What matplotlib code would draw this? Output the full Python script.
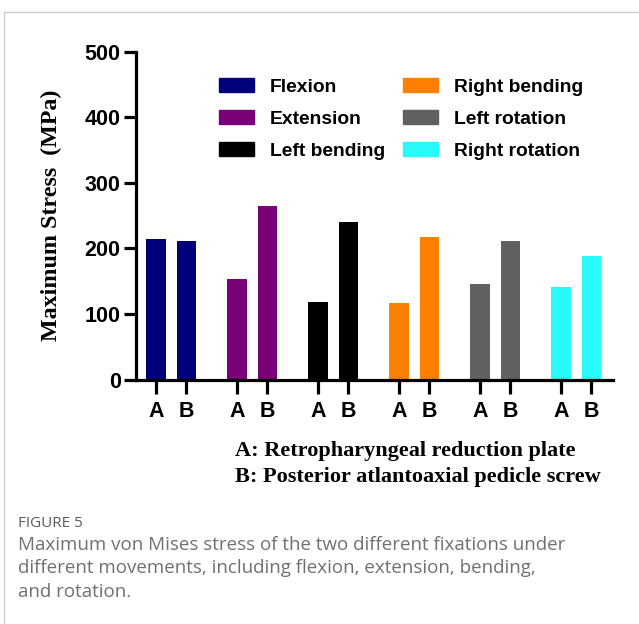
import matplotlib
matplotlib.use('Agg')
import matplotlib.pyplot as plt
import matplotlib.patches as mpatches
from matplotlib.lines import Line2D
import numpy as np

# data
movements = ['Flexion', 'Extension', 'Left bending', 'Right bending', 'Left rotation', 'Right rotation']
stress_a = [215, 154, 119, 117, 146, 142]   # Retropharyngeal reduction plate
stress_b = [211, 265, 241, 217, 211, 189]   # Posterior atlantoaxial pedicle screw
colors = ['#00007a', '#7a0078', '#000000', '#ff8000', '#606060', '#28fafa']
tick_labels = ['A', 'B']

W, H = 639, 624
fig = plt.figure(figsize=(W / 100, H / 100), dpi=100)
fig.patch.set_facecolor('white')

# axes placement (pixels from the reference)
x0, x1, ytop, ybot = 136, 613, 51.7, 379.7
ax = fig.add_axes([x0 / W, 1 - ybot / H, (x1 - x0) / W, (ybot - ytop) / H])

group_step = 2.656
bar_w = 0.64
xa = np.arange(len(movements)) * group_step
xb = xa + 1

for i in range(len(movements)):
    ax.bar(xa[i], stress_a[i], width=bar_w, color=colors[i], linewidth=0)
    ax.bar(xb[i], stress_b[i], width=bar_w, color=colors[i], linewidth=0)

ax.set_xlim(xa[0] - 0.65, xb[-1] + 0.71)
ax.set_ylim(0, 500)

for s in ['top', 'right']:
    ax.spines[s].set_visible(False)
for s in ['left', 'bottom']:
    ax.spines[s].set_linewidth(2.3)

xt = np.ravel(np.column_stack([xa, xb]))
ax.set_xticks(xt)
ax.set_xticklabels(tick_labels * len(movements))
ax.set_yticks(np.arange(0, 501, 100))
ax.tick_params(axis='x', length=10, width=2.3, pad=5)
ax.tick_params(axis='y', length=9, width=2.3, pad=2)
for lab in ax.get_xticklabels() + ax.get_yticklabels():
    lab.set_fontfamily('Liberation Sans')
    lab.set_fontweight('bold')
    lab.set_fontsize(15.5)

ax.set_ylabel('Maximum Stress  (MPa)', family='Liberation Serif', fontweight='bold',
              fontsize=17.3, labelpad=16)

handles = [mpatches.Patch(color=c, label=m) for c, m in zip(colors, movements)]
ax.legend(handles=handles, ncol=2, loc='upper left', bbox_to_anchor=(0.174, 0.92),
          frameon=False, prop={'family': 'Liberation Sans', 'weight': 'bold', 'size': 13.9},
          handlelength=1.81, handleheight=0.73, handletextpad=0.83,
          labelspacing=0.75, columnspacing=0.9, borderpad=0, borderaxespad=0)

# A / B explanation
fig.text(235 / W, 1 - 456 / H, 'A: Retropharyngeal reduction plate', family='Liberation Serif',
         fontweight='bold', fontsize=16, va='baseline')
fig.text(235 / W, 1 - 482 / H, 'B: Posterior atlantoaxial pedicle screw', family='Liberation Serif',
         fontweight='bold', fontsize=16, va='baseline')

# caption
fig.text(18 / W, 1 - 527 / H, 'FIGURE 5', family='Open Sans', fontsize=11, color='#5a5a5a',
         va='baseline')
caption = ['Maximum von Mises stress of the two different fixations under',
           'different movements, including flexion, extension, bending,',
           'and rotation.']
for k, line in enumerate(caption):
    fig.text(18 / W, 1 - (550 + 23.3 * k) / H, line, family='Open Sans', fontsize=13.5,
             color='#707070', va='baseline')

# light frame
fig.add_artist(Line2D([4 / W, 4 / W], [0, 1 - 12 / H], transform=fig.transFigure,
                      color='#cccccc', lw=1))
fig.add_artist(Line2D([4 / W, 1], [1 - 12 / H, 1 - 12 / H], transform=fig.transFigure,
                      color='#cccccc', lw=1))

fig.savefig('out.png', dpi=100)
